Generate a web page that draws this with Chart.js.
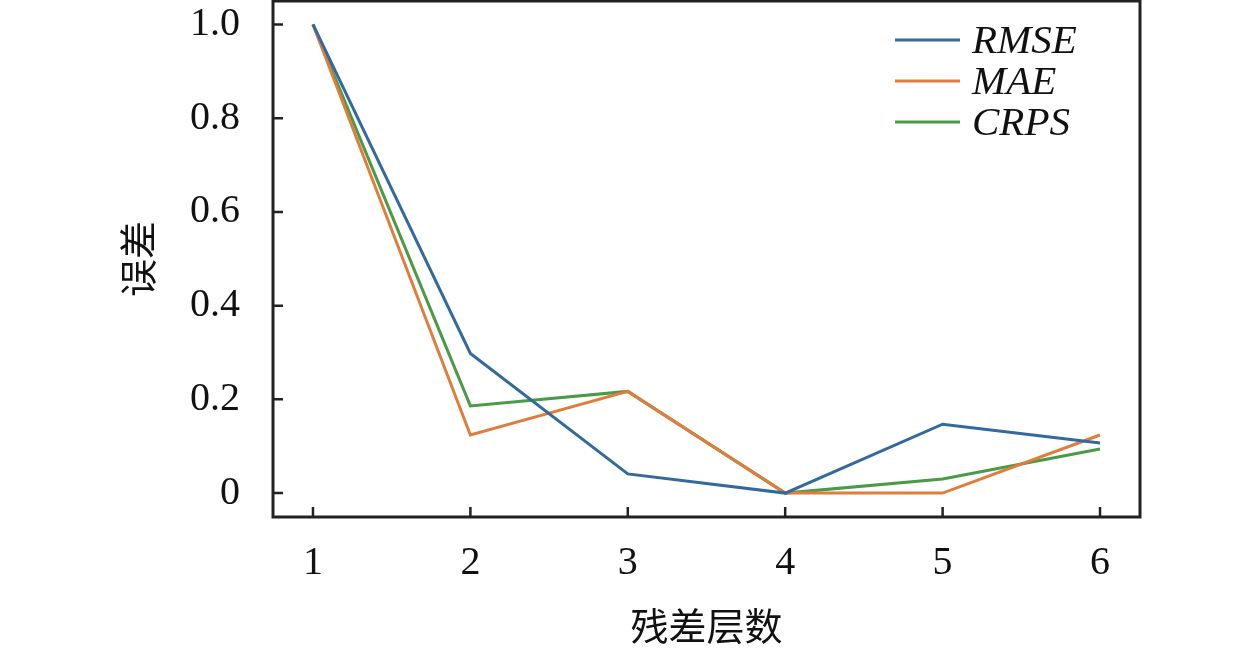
<!DOCTYPE html>
<html>
<head>
<meta charset="utf-8">
<script src="https://cdn.jsdelivr.net/npm/chart.js@4.4.1/dist/chart.umd.min.js"></script>
<style>
  html, body { margin: 0; padding: 0; background: #fff; }
  #wrap { width: 1259px; height: 651px; }
</style>
</head>
<body>
<div id="wrap"><canvas id="errChart"></canvas></div>
<script>
// layers on the x axis
const layers = [1, 2, 3, 4, 5, 6];
const rmse = [1.0, 0.298, 0.041, 0.0, 0.147, 0.107];
const mae = [1.0, 0.124, 0.217, 0.0, 0.0, 0.124];
const crps = [1.0, 0.186, 0.217, 0.0, 0.030, 0.094];
const yTicks = [0, 0.2, 0.4, 0.6, 0.8, 1.0];

const serif = "'Liberation Serif', 'Times New Roman', serif";
const cjk = "'Noto Sans CJK SC', sans-serif";

function pts(arr) {
  return arr.map((v, i) => ({ x: layers[i], y: v }));
}

// box around the plot + inward tick marks
const frame = {
  id: 'frame',
  afterDraw(chart) {
    const { ctx, chartArea: a, scales } = chart;
    ctx.save();
    ctx.strokeStyle = '#222';
    ctx.lineWidth = 3;
    ctx.strokeRect(a.left, a.top, a.right - a.left, a.bottom - a.top);
    ctx.lineWidth = 2.5;
    ctx.beginPath();
    layers.forEach(v => {
      const x = scales.x.getPixelForValue(v);
      ctx.moveTo(x, a.bottom);
      ctx.lineTo(x, a.bottom - 10);
    });
    yTicks.forEach(v => {
      const y = scales.y.getPixelForValue(v);
      ctx.moveTo(a.left, y);
      ctx.lineTo(a.left + 10, y);
    });
    ctx.stroke();
    ctx.restore();
  }
};

// legend in the upper right, matplotlib style (no frame)
const cornerLegend = {
  id: 'cornerLegend',
  afterDraw(chart) {
    const { ctx, chartArea: a } = chart;
    const x0 = a.right - 245;
    ctx.save();
    ctx.font = "italic 41px " + serif;
    ctx.textBaseline = 'middle';
    ctx.fillStyle = '#111';
    chart.data.datasets.forEach((ds, i) => {
      const y = a.top + 39 + i * 41;
      ctx.strokeStyle = ds.borderColor;
      ctx.lineWidth = 3;
      ctx.beginPath();
      ctx.moveTo(x0, y);
      ctx.lineTo(x0 + 65, y);
      ctx.stroke();
      ctx.fillText(ds.label, x0 + 77, y + 2);
    });
    ctx.restore();
  }
};

const ctx = document.getElementById('errChart').getContext('2d');
new Chart(ctx, {
  type: 'line',
  data: {
    datasets: [
      { label: 'RMSE', data: pts(rmse), borderColor: '#33699c', backgroundColor: '#33699c' },
      { label: 'MAE', data: pts(mae), borderColor: '#e07d3c', backgroundColor: '#e07d3c' },
      { label: 'CRPS', data: pts(crps), borderColor: '#4b9a47', backgroundColor: '#4b9a47' }
    ]
  },
  options: {
    responsive: true,
    maintainAspectRatio: false,
    animation: false,
    elements: {
      line: { borderWidth: 3, tension: 0 },
      point: { radius: 0 }
    },
    layout: { padding: { top: 1, right: 119, left: 0, bottom: 0 } },
    plugins: {
      legend: { display: false },
      tooltip: { enabled: false }
    },
    scales: {
      x: {
        type: 'linear',
        min: 0.746,
        max: 6.254,
        grid: { display: false },
        border: { display: false },
        afterBuildTicks: s => { s.ticks = layers.map(v => ({ value: v })); },
        afterFit: s => { s.height = 134; s.paddingLeft = 0; s.paddingRight = 0; },
        ticks: {
          padding: 14,
          color: '#111',
          maxRotation: 0,
          font: { family: serif, size: 40 },
          callback: v => String(v)
        },
        title: {
          display: true,
          text: '残差层数',
          color: '#111',
          padding: { top: 0, bottom: 3 },
          font: { family: cjk, size: 38 }
        }
      },
      y: {
        min: -0.051,
        max: 1.05,
        grid: { display: false },
        border: { display: false },
        afterBuildTicks: s => { s.ticks = yTicks.map(v => ({ value: v })); },
        afterFit: s => { s.width = 273; s.paddingTop = 0; s.paddingBottom = 0; },
        ticks: {
          padding: 25,
          color: '#111',
          font: { family: serif, size: 40 },
          callback: v => (v === 0 ? '0' : v.toFixed(1))
        },
        title: {
          display: true,
          text: '误差',
          color: '#111',
          padding: { top: 115, bottom: 0 },
          font: { family: cjk, size: 38 }
        }
      }
    }
  },
  plugins: [frame, cornerLegend]
});
</script>
</body>
</html>
